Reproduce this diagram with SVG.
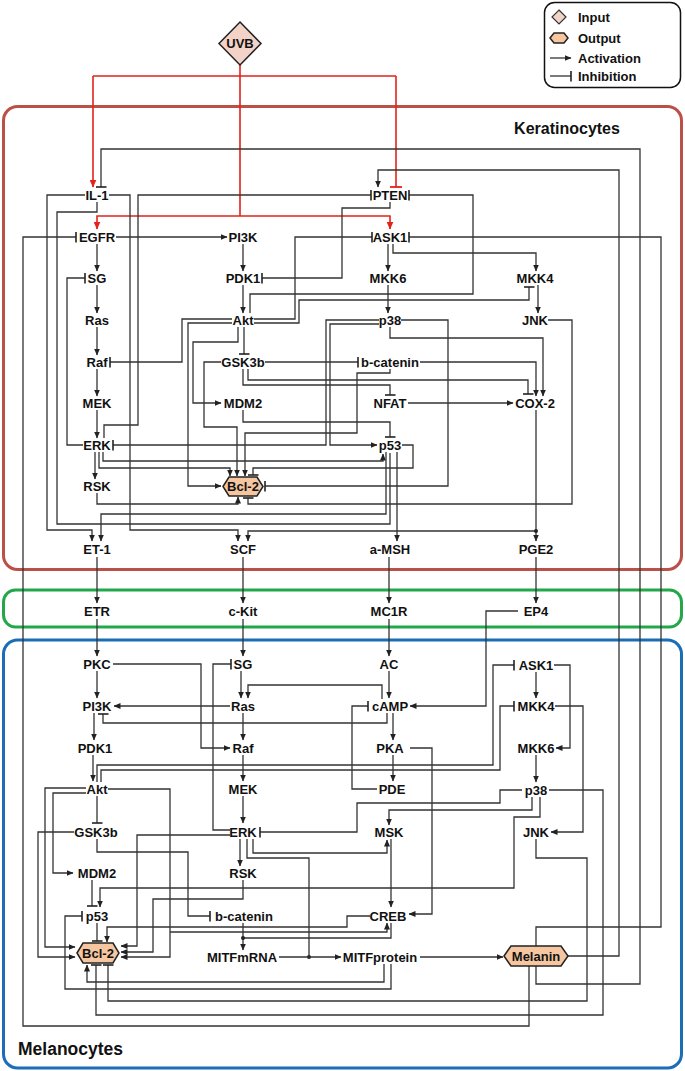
<svg xmlns="http://www.w3.org/2000/svg" width="685" height="1071" viewBox="0 0 685 1071">
<style>
.n{font-family:"Liberation Sans",Arial,sans-serif;font-weight:bold;font-size:13px;text-anchor:middle;fill:#111}
.t{font-family:"Liberation Sans",Arial,sans-serif;font-weight:bold;fill:#111}
.e{fill:none;stroke:#333;stroke-width:1.3}
.ea{fill:none;stroke:#333;stroke-width:1.3;marker-end:url(#a)}
.eb{fill:none;stroke:#333;stroke-width:1.3;marker-end:url(#b)}
.r{fill:none;stroke:#e3221c;stroke-width:1.6}
.hex{fill:#f5c6a0;stroke:#222;stroke-width:1.5}
</style>
<defs>
<marker id="a" viewBox="0 0 7 6" markerWidth="7" markerHeight="6" refX="6.5" refY="3" orient="auto" markerUnits="userSpaceOnUse"><path d="M0,0L7,3L0,6z" fill="#222"/></marker>
<marker id="b" viewBox="0 0 2 11" markerWidth="2" markerHeight="11" refX="1" refY="5.5" orient="auto" markerUnits="userSpaceOnUse"><path d="M1,0V11" stroke="#222" stroke-width="1.6"/></marker>
<marker id="ar" viewBox="0 0 8 7" markerWidth="8" markerHeight="7" refX="7.5" refY="3.5" orient="auto" markerUnits="userSpaceOnUse"><path d="M0,0L8,3.5L0,7z" fill="#e3221c"/></marker>
<marker id="br" viewBox="0 0 2 12" markerWidth="2" markerHeight="12" refX="1" refY="6" orient="auto" markerUnits="userSpaceOnUse"><path d="M1,0V12" stroke="#e3221c" stroke-width="1.8"/></marker>
</defs>
<rect width="685" height="1071" fill="#fff"/>

<g id="compartments">
<rect x="3.5" y="106.5" width="678" height="463" rx="14" fill="none" stroke="#bb5049" stroke-width="3"/>
<rect x="3.5" y="590" width="678" height="37" rx="12" fill="none" stroke="#22a84b" stroke-width="3"/>
<rect x="3.5" y="640" width="678" height="428" rx="14" fill="none" stroke="#1b6db6" stroke-width="3"/>
<text class="t" x="567" y="134" font-size="16" text-anchor="middle">Keratinocytes</text>
<text class="t" x="18" y="1055" font-size="17.5">Melanocytes</text>
</g>

<g id="legend">
<rect x="544.5" y="2.5" width="136" height="85" rx="10" fill="#fff" stroke="#111" stroke-width="1.5"/>
<polygon points="559,10 566,17 559,24 552,17" fill="#f3d2c7" stroke="#333" stroke-width="1.2"/>
<text class="t" x="578" y="21.5" font-size="13">Input</text>
<polygon points="550,38 554,33 564,33 568,38 564,43 554,43" class="hex" stroke-width="1.2"/>
<text class="t" x="578" y="42.5" font-size="13">Output</text>
<path d="M550,58H571" class="ea"/>
<text class="t" x="578" y="62.5" font-size="13">Activation</text>
<path d="M550,76H571" class="eb"/>
<text class="t" x="578" y="80.5" font-size="13">Inhibition</text>
</g>

<g id="connectors">
<path class="r" d="M240,65V216M93,76H396"/>
<path class="r" d="M93,76V187" marker-end="url(#ar)"/>
<path class="r" d="M240,216H97V229" marker-end="url(#ar)"/>
<path class="r" d="M240,216H390V229" marker-end="url(#ar)"/>
<path class="r" d="M396,76V187" marker-end="url(#br)"/>

<path class="ea" d="M97,244V271"/>
<path class="ea" d="M97,285V313"/>
<path class="ea" d="M97,327V355"/>
<path class="ea" d="M97,369V396"/>
<path class="ea" d="M97,410V438"/>
<path class="ea" d="M95,452V479"/>

<path class="eb" d="M536,966V984H640V149H101V187"/>
<path class="ea" d="M568,956H619V170H378V187"/>
<path class="eb" d="M536,946V927H661V237H409"/>
<path class="eb" d="M529,966V1026H23V237H76"/>
<path class="ea" d="M85,195H47V530H92V541"/>
<path class="e" d="M97,202V212H57V524H390V453"/>
<path class="ea" d="M109,195H130V530H238V541"/>
<path class="ea" d="M536,531H248V541"/>
<path class="eb" d="M104,438V425H138V195H371"/>
<path class="eb" d="M83,445H67V278H85"/>
<path class="ea" d="M103,452V461H383V454"/>
<path class="ea" d="M99,452V468H230V476"/>
<path class="eb" d="M379,320H326V445H113"/>
<path class="ea" d="M379,324H330V445H377"/>
<path class="ea" d="M390,327V338H543V396"/>
<path class="eb" d="M401,320H448V486H265"/>
<path class="ea" d="M388,285V313"/>
<path class="ea" d="M388,244V271"/>
<path class="ea" d="M393,244V253H536V271"/>
<path class="ea" d="M538,285V313"/>
<path class="eb" d="M254,319H295V237H372"/>
<path class="eb" d="M254,323H299V300H529V287"/>
<path class="eb" d="M250,313V294H473V195H409"/>
<path class="eb" d="M390,202V208H342V278H262"/>
<path class="ea" d="M116,237H227"/>
<path class="ea" d="M243,244V271"/>
<path class="ea" d="M243,285V313"/>
<path class="eb" d="M232,319H182V362H110"/>
<path class="ea" d="M232,323H188V486H221"/>
<path class="ea" d="M238,327V342H193V403H221"/>
<path class="eb" d="M244,327V354"/>
<path class="eb" d="M265,362H358"/>
<path class="eb" d="M243,369V385H390V395"/>
<path class="eb" d="M248,369V380H528V394"/>
<path class="ea" d="M420,362H536V396"/>
<path class="ea" d="M390,369V373H357V433H245V476"/>
<path class="ea" d="M221,362H204V427H237V476"/>
<path class="eb" d="M243,410V422H390V437"/>
<path class="ea" d="M408,403H513"/>
<path class="eb" d="M402,445H413V468H253V475"/>
<path class="ea" d="M386,452V514H101V541"/>
<path class="ea" d="M397,452V541"/>
<path class="ea" d="M97,493V504H238V497"/>
<path class="eb" d="M548,320H572V504H248V498"/>
<path class="ea" d="M536,410V541"/>
<circle cx="536" cy="531" r="2" fill="#222"/>
<path class="ea" d="M97,557V603"/>
<path class="ea" d="M243,557V603"/>
<path class="ea" d="M389,557V603"/>
<path class="ea" d="M536,557V603"/>
<path class="ea" d="M97,619V656"/>
<path class="ea" d="M243,619V656"/>
<path class="ea" d="M389,619V656"/>

<path class="ea" d="M518,611H486V706H410"/>
<path class="ea" d="M97,671V698"/>
<path class="ea" d="M113,664H201V748H230"/>
<path class="ea" d="M230,706H114"/>
<path class="eb" d="M387,713V723H103V714"/>
<path class="ea" d="M94,713V740"/>
<path class="ea" d="M93,755V781"/>
<path class="eb" d="M97,782V765H493V665H514"/>
<path class="eb" d="M101,782V770H500V706H514"/>
<path class="ea" d="M86,788H45V947H75"/>
<path class="ea" d="M86,793H53V873H73"/>
<path class="ea" d="M108,789H170V957H121"/>
<path class="ea" d="M170,932H387V923"/>
<path class="eb" d="M97,796V823"/>
<path class="ea" d="M74,832H38V957H75"/>
<path class="eb" d="M97,839V852H188V916H210"/>
<path class="eb" d="M92,880V906"/>
<path class="ea" d="M540,797V817H514V888H100V907"/>
<path class="eb" d="M97,923V941"/>
<path class="eb" d="M391,964V989H65V916H82"/>
<path class="ea" d="M384,964V982H87V965"/>
<path class="eb" d="M549,790H603V1015H96V965"/>
<path class="eb" d="M536,839V858H587V1001H108V965"/>
<path class="ea" d="M370,916H347V927H107V942"/>
<path class="ea" d="M243,923V950"/>
<path class="e" d="M391,923V938H243"/>
<circle cx="243" cy="938" r="2" fill="#222"/>
<path class="ea" d="M243,880V899H153V952H121"/>
<path class="ea" d="M230,835H137V946H121"/>
<path class="eb" d="M230,830H213V664H231"/>
<path class="ea" d="M240,839V866"/>
<path class="ea" d="M253,839V853H387V840"/>
<path class="e" d="M247,839V858H309V957"/>
<circle cx="309" cy="957" r="2" fill="#222"/>
<path class="eb" d="M522,790H500V803H357V832H260"/>
<path class="ea" d="M532,797V810H389V825"/>
<path class="ea" d="M555,706H583V832H551"/>
<path class="ea" d="M554,665H570V748H556"/>
<path class="ea" d="M536,672V698"/>
<path class="ea" d="M536,755V782"/>
<path class="ea" d="M389,671V698"/>
<path class="ea" d="M382,699V685H248V698"/>
<path class="ea" d="M241,671V698"/>
<path class="eb" d="M377,789H352V706H368"/>
<path class="ea" d="M393,713V740"/>
<path class="ea" d="M393,755V781"/>
<path class="ea" d="M410,748H432V914H409"/>
<path class="ea" d="M243,713V740"/>
<path class="ea" d="M243,755V781"/>
<path class="ea" d="M243,796V823"/>
<path class="ea" d="M391,839V907"/>
<path class="ea" d="M279,957H341"/>
<path class="ea" d="M420,957H503"/>
</g>

<g id="n-UVB"><polygon points="240,22 261,43.5 240,65 219,43.5" fill="#f3d2c7" stroke="#222" stroke-width="1.5"/><text class="n" x="240" y="48" font-size="12">UVB</text></g>

<g id="k-IL-1"><text class="n" x="97" y="199.7">IL-1</text></g>
<g id="k-PTEN"><text class="n" x="390" y="199.7">PTEN</text></g>
<g id="k-EGFR"><text class="n" x="97" y="241.7">EGFR</text></g>
<g id="k-PI3K"><text class="n" x="243" y="241.7">PI3K</text></g>
<g id="k-ASK1"><text class="n" x="390" y="241.7">ASK1</text></g>
<g id="k-SG"><text class="n" x="97" y="282.7">SG</text></g>
<g id="k-PDK1"><text class="n" x="243" y="282.7">PDK1</text></g>
<g id="k-MKK6"><text class="n" x="388" y="282.7">MKK6</text></g>
<g id="k-MKK4"><text class="n" x="535" y="282.7">MKK4</text></g>
<g id="k-Ras"><text class="n" x="97" y="324.7">Ras</text></g>
<g id="k-Akt"><text class="n" x="243" y="324.7">Akt</text></g>
<g id="k-p38"><text class="n" x="390" y="324.7">p38</text></g>
<g id="k-JNK"><text class="n" x="535" y="324.7">JNK</text></g>
<g id="k-Raf"><text class="n" x="97" y="366.7">Raf</text></g>
<g id="k-GSK3b"><text class="n" x="243" y="366.7">GSK3b</text></g>
<g id="k-bcatenin"><text class="n" x="390" y="366.7">b-catenin</text></g>
<g id="k-MEK"><text class="n" x="97" y="407.7">MEK</text></g>
<g id="k-MDM2"><text class="n" x="243" y="407.7">MDM2</text></g>
<g id="k-NFAT"><text class="n" x="390" y="407.7">NFAT</text></g>
<g id="k-COX-2"><text class="n" x="535" y="407.7">COX-2</text></g>
<g id="k-ERK"><text class="n" x="97" y="449.7">ERK</text></g>
<g id="k-p53"><text class="n" x="390" y="449.7">p53</text></g>
<g id="k-RSK"><text class="n" x="97" y="490.7">RSK</text></g>
<g id="k-Bcl-2"><polygon class="hex" points="223,486.5 229,477 257,477 263,486.5 257,496 229,496"/><text class="n" x="243" y="491">Bcl-2</text></g>
<g id="k-ET-1"><text class="n" x="97" y="553.7">ET-1</text></g>
<g id="k-SCF"><text class="n" x="243" y="553.7">SCF</text></g>
<g id="k-aMSH"><text class="n" x="390" y="553.7">a-MSH</text></g>
<g id="k-PGE2"><text class="n" x="536" y="553.7">PGE2</text></g>

<g id="g-ETR"><text class="n" x="97" y="615.7">ETR</text></g>
<g id="g-cKit"><text class="n" x="243" y="615.7">c-Kit</text></g>
<g id="g-MC1R"><text class="n" x="389" y="615.7">MC1R</text></g>
<g id="g-EP4"><text class="n" x="536" y="615.7">EP4</text></g>

<g id="m-PKC"><text class="n" x="97" y="668.7">PKC</text></g>
<g id="m-SG"><text class="n" x="243" y="668.7">SG</text></g>
<g id="m-AC"><text class="n" x="389" y="668.7">AC</text></g>
<g id="m-ASK1"><text class="n" x="536" y="669.7">ASK1</text></g>
<g id="m-PI3K"><text class="n" x="97" y="710.7">PI3K</text></g>
<g id="m-Ras"><text class="n" x="243" y="710.7">Ras</text></g>
<g id="m-cAMP"><text class="n" x="390" y="710.7">cAMP</text></g>
<g id="m-MKK4"><text class="n" x="536" y="710.7">MKK4</text></g>
<g id="m-PDK1"><text class="n" x="95" y="752.7">PDK1</text></g>
<g id="m-Raf"><text class="n" x="243" y="752.7">Raf</text></g>
<g id="m-PKA"><text class="n" x="390" y="752.7">PKA</text></g>
<g id="m-MKK6"><text class="n" x="536" y="752.7">MKK6</text></g>
<g id="m-Akt"><text class="n" x="97" y="793.7">Akt</text></g>
<g id="m-MEK"><text class="n" x="243" y="793.7">MEK</text></g>
<g id="m-PDE"><text class="n" x="392" y="793.7">PDE</text></g>
<g id="m-p38"><text class="n" x="536" y="794.7">p38</text></g>
<g id="m-GSK3b"><text class="n" x="96" y="836.7">GSK3b</text></g>
<g id="m-ERK"><text class="n" x="243" y="836.7">ERK</text></g>
<g id="m-MSK"><text class="n" x="389" y="836.7">MSK</text></g>
<g id="m-JNK"><text class="n" x="536" y="836.7">JNK</text></g>
<g id="m-MDM2"><text class="n" x="97" y="877.7">MDM2</text></g>
<g id="m-RSK"><text class="n" x="243" y="877.7">RSK</text></g>
<g id="m-p53"><text class="n" x="97" y="920.7">p53</text></g>
<g id="m-bcatenin"><text class="n" x="244" y="920.7">b-catenin</text></g>
<g id="m-CREB"><text class="n" x="388" y="920.7">CREB</text></g>
<g id="m-Bcl-2"><polygon class="hex" points="77,953 83,943 113,943 119,953 113,963 83,963"/><text class="n" x="98" y="957.7">Bcl-2</text></g>
<g id="m-MITFmRNA"><text class="n" x="242" y="961.7">MITFmRNA</text></g>
<g id="m-MITFprotein"><text class="n" x="380" y="961.7">MITFprotein</text></g>
<g id="m-Melanin"><polygon class="hex" points="504,956 511,946 561,946 568,956 561,966 511,966"/><text class="n" x="536" y="960.7">Melanin</text></g>
</svg>
